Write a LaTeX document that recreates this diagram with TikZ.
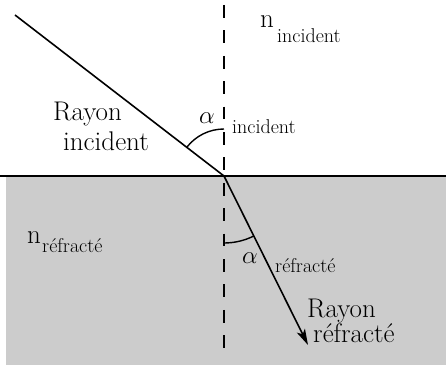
\documentclass[tikz,border=0pt]{standalone}
\usepackage{fontspec}
\usetikzlibrary{arrows.meta}
\begin{document}
\begin{tikzpicture}[x=1pt,y=1pt,
  ray/.style={line width=1.6pt},
  big/.style={inner sep=0pt,anchor=base west,font=\rmfamily\fontsize{27}{31}\selectfont},
  small/.style={inner sep=0pt,anchor=base west,font=\rmfamily\fontsize{20}{24}\selectfont},
  normal/.style={line width=1.6pt,dash pattern=on 12.7pt off 12.7pt},
  anglearc/.style={line width=1.4pt}]
\useasboundingbox (0,0) rectangle (446,365);
\fill[white] (0,0) rectangle (446,365);
\fill[black!20] (6,0) rectangle (446,188);
\coordinate (L) at (0,189);
\coordinate (R) at (446,189);
\draw[line width=1.5pt] (L) -- (R);
\coordinate (O) at (224,189);
\coordinate (Ntop) at (224,360);
\coordinate (Nbot) at (224,17);
\coordinate (S) at (15,350);
\coordinate (T) at (308,20);
\draw[normal] (Ntop) -- (Nbot);
\draw[ray] (S) -- (O);
\draw[ray,-{Stealth[length=16pt,width=9pt,inset=4pt]}] (O) -- (T);
\draw[anglearc] ([shift={(90:47)}]O) arc[start angle=90,end angle=142.4,radius=47];
\draw[anglearc] ([shift={(270:67)}]O) arc[start angle=270,end angle=296.4,radius=67];
\node[big] (ri1) at (53,245) {Rayon};
\node[big] (ri2) at (63,215) {incident};
\node[big] (ai) at (199,242) {$\alpha$};
\node[small] (ais) at (232,232) {incident};
\node[big] (ni) at (260,337) {n};
\node[small] (nis) at (277,323) {incident};
\node[big] (nr) at (27,122) {n};
\node[small] (nrs) at (42,113) {réfracté};
\node[big] (ar) at (242,102) {$\alpha$};
\node[small] (ars) at (275,93) {réfracté};
\node[big] (rr1) at (307,48) {Rayon};
\node[big] (rr2) at (313,23) {réfracté};
\end{tikzpicture}
\end{document}
